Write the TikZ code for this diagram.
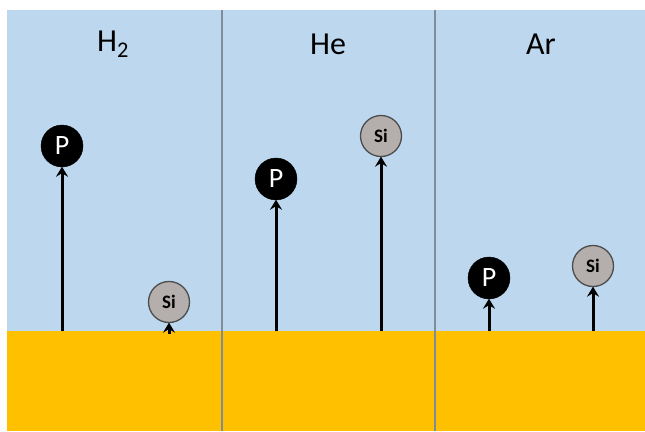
\documentclass[tikz,border=0pt]{standalone}
\usepackage{fontspec}
\setmainfont{Carlito}
\usetikzlibrary{arrows.meta}

\definecolor{gasblue}{HTML}{BDD7EE}
\definecolor{surf}{HTML}{FFC000}
\definecolor{divgray}{HTML}{7F8C99}
\definecolor{sigray}{HTML}{B4AFAD}

\begin{document}
\begin{tikzpicture}[x=1pt, y=-1pt,
	atomP/.style={draw=black, fill=black, circle, minimum size=42pt, inner sep=0pt, text=white, font=\fontsize{28}{28}\selectfont},
	atomSi/.style={draw=black!70, fill=sigray, line width=1.3pt, circle, minimum size=41pt, inner sep=0pt, font=\bfseries\fontsize{19}{19}\selectfont},
	gas/.style={font=\fontsize{32}{32}\selectfont},
	seta/.style={line width=3pt, -{Stealth[length=10pt, width=12pt, inset=3.5pt]}, shorten >=-0.5pt}
	]
	\useasboundingbox (0,0) rectangle (645,431);
	% gas and surface
	\fill[gasblue] (7,10) rectangle (645,331);
	\fill[surf] (7,331) rectangle (645,431);
	\draw[divgray, line width=2pt] (222,10) -- (222,431);
	\draw[divgray, line width=2pt] (435,10) -- (435,431);

	% labels
	\node[gas] (lH) at (113,44) {H\textsubscript{2}};
	\node[gas] (lHe) at (328,44) {He};
	\node[gas] (lAr) at (541,44) {Ar};

	% atoms
	\node[atomP] (P1) at (62,146) {P};
	\node[atomSi] (S1) at (169,302) {Si};
	\node[atomP] (P2) at (276,179) {P};
	\node[atomSi] (S2) at (381,136) {Si};
	\node[atomP] (P3) at (489,278) {P};
	\node[atomSi] (S3) at (593,266) {Si};

	% surface points
	\coordinate (b1) at (62,331);
	\coordinate (c1) at (169,334);
	\coordinate (b2) at (276,331);
	\coordinate (c2) at (381,331);
	\coordinate (b3) at (489,331);
	\coordinate (c3) at (593,331);

	\draw[seta] (b1) -- (P1);
	\draw[seta] (c1) -- (S1);
	\draw[seta] (b2) -- (P2);
	\draw[seta] (c2) -- (S2);
	\draw[seta] (b3) -- (P3);
	\draw[seta] (c3) -- (S3);
\end{tikzpicture}
\end{document}
